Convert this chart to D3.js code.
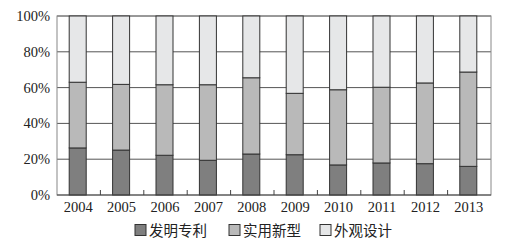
<!DOCTYPE html>
<html><head><meta charset="utf-8">
<script src="https://cdn.jsdelivr.net/npm/d3@7"></script>
<style>body{margin:0;background:#fff}svg{display:block}</style>
</head><body><svg id="c" width="509" height="243"></svg>
<script>
const years = ["2004","2005","2006","2007","2008","2009","2010","2011","2012","2013"];
const invention = [26.3, 25.1, 22.2, 19.4, 22.9, 22.5, 16.8, 17.9, 17.5, 16.0];
const utility   = [36.7, 36.7, 39.4, 42.2, 42.6, 34.3, 42.0, 42.3, 45.1, 52.7];
const design    = [37.0, 38.2, 38.4, 38.4, 34.5, 43.2, 41.2, 39.8, 37.4, 31.3];
const seriesNames = ["发明专利","实用新型","外观设计"];
const yTicks = [0,20,40,60,80,100];
const colors = ["#7f7f7f","#b9b9b9","#e6e7e8"];

const svg = d3.select("#c");
const m = {l:57, r:18, t:16, b:48};
const W = 509, H = 243;
const x = d3.scaleBand().domain(years).range([m.l, W-m.r]);
const y = d3.scaleLinear().domain([0,100]).range([H-m.b, m.t]);
const barW = 17;

// grid
svg.append("g").selectAll("line").data(yTicks.filter(d=>d>0)).join("line")
  .attr("x1", m.l).attr("x2", W-m.r).attr("y1", d=>y(d)).attr("y2", d=>y(d))
  .attr("stroke","#555").attr("stroke-width",1);
// frame
svg.append("rect").attr("x",m.l).attr("y",m.t).attr("width",W-m.r-m.l).attr("height",y(0)-m.t)
  .attr("fill","none").attr("stroke","#888").attr("stroke-width",1);

const data = years.map((yr,i)=>({year:yr, v:[invention[i], utility[i], design[i]]}));
const stackData = data.map(d=>{
  let c=0; return d.v.map((v,k)=>{const s={year:d.year,k,y0:c,y1:c+v}; c+=v; return s;});
}).flat();

svg.append("g").selectAll("rect").data(stackData).join("rect")
  .attr("x", d=>x(d.year)+x.bandwidth()/2-barW/2-1)
  .attr("width", barW)
  .attr("y", d=>y(Math.min(100,d.y1)))
  .attr("height", d=>y(d.y0)-y(Math.min(100,d.y1)))
  .attr("fill", d=>colors[d.k]).attr("stroke","#333").attr("stroke-width",1);

// bottom axis
const xa = svg.append("g").attr("transform",`translate(0,${y(0)})`);
xa.append("line").attr("x1",m.l).attr("x2",W-m.r).attr("stroke","#444");
xa.selectAll("line.t").data(years.slice(1)).join("line").attr("class","t")
  .attr("x1",d=>x(d)).attr("x2",d=>x(d)).attr("y1",0).attr("y2",-5).attr("stroke","#444");
xa.selectAll("text").data(years).join("text")
  .attr("x",d=>x(d)+x.bandwidth()/2-0.5).attr("y",17)
  .attr("text-anchor","middle").attr("font-family","Liberation Serif, DejaVu Serif, serif")
  .attr("font-size",14.5).attr("fill","#222").text(d=>d);

// left axis labels
svg.append("g").selectAll("text").data(yTicks).join("text")
  .attr("x", m.l-7).attr("y", d=>y(d)+5)
  .attr("text-anchor","end").attr("font-family","Liberation Serif, DejaVu Serif, serif")
  .attr("font-size",14.5).attr("fill","#222").text(d=>d+"%");

// legend
const lx = [135, 229, 320];
const lg = svg.append("g");
seriesNames.forEach((n,i)=>{
  lg.append("rect").attr("x",lx[i]).attr("y",224.5).attr("width",11).attr("height",11)
    .attr("fill",colors[i]).attr("stroke","#333").attr("stroke-width",1);
  lg.append("text").attr("x",lx[i]+14).attr("y",235.5)
    .attr("font-family","Noto Sans CJK SC, sans-serif").attr("font-size",14.5)
    .attr("fill","#222").text(n);
});
</script></body></html>
